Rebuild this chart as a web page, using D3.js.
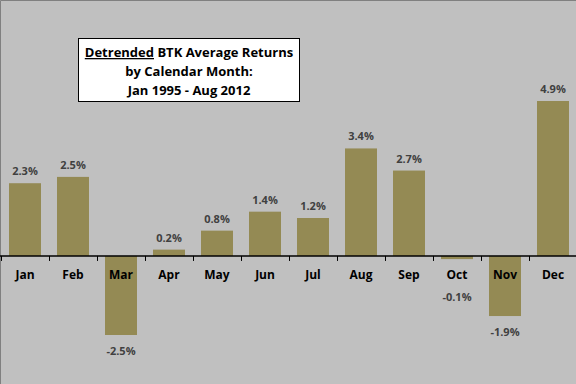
<!DOCTYPE html>
<html>
<head>
<meta charset="utf-8">
<script src="https://cdn.jsdelivr.net/npm/d3@7"></script>
<style>
  body { margin: 0; background: #c0c0c0; }
  svg { display: block; }
</style>
</head>
<body>
<svg width="576" height="384"></svg>
<script>
const months = ['Jan','Feb','Mar','Apr','May','Jun','Jul','Aug','Sep','Oct','Nov','Dec'];
const returns = [2.3, 2.5, -2.5, 0.2, 0.8, 1.4, 1.2, 3.4, 2.7, -0.1, -1.9, 4.9];
const titleLines = ['Detrended BTK Average Returns', 'by Calendar Month:', 'Jan 1995 - Aug 2012'];

const font = "Open Sans, Liberation Sans, sans-serif";
const svg = d3.select('svg');

svg.append('rect')
    .attr('width', 576).attr('height', 384)
    .attr('fill', '#c0c0c0');

// border on top / left
svg.append('path')
    .attr('d', 'M0.5,384V0.5H576')
    .attr('fill', 'none')
    .attr('stroke', '#808080');

const xScale = d3.scaleBand()
    .domain(months)
    .range([1, 577])
    .paddingInner(1/3)
    .paddingOuter(1/6);

const yScale = d3.scaleLinear()
    .domain([-2.5, 4.9])
    .range([335, 101]);

const zero = yScale(0);

svg.selectAll('rect.bar')
    .data(months)
    .enter()
    .append('rect')
    .attr('class', 'bar')
    .attr('x', m => xScale(m))
    .attr('y', (m, i) => Math.min(yScale(returns[i]), zero))
    .attr('width', xScale.bandwidth())
    .attr('height', (m, i) => Math.abs(yScale(returns[i]) - zero))
    .attr('fill', '#948a54');

// axis line + ticks between categories
const axis = svg.append('g');
axis.append('line')
    .attr('x1', 0).attr('x2', 576)
    .attr('y1', zero).attr('y2', zero)
    .attr('stroke', '#000').attr('stroke-width', 1.5);
months.forEach((m, i) => {
    const tx = Math.round(xScale(m) - xScale.step() * xScale.paddingInner() / 2) + 0.5;
    axis.append('line')
        .attr('x1', tx).attr('x2', tx)
        .attr('y1', zero).attr('y2', zero + 5)
        .attr('stroke', '#000');
});

svg.selectAll('text.month')
    .data(months)
    .enter()
    .append('text')
    .attr('class', 'month')
    .attr('x', m => xScale(m) + xScale.bandwidth() / 2)
    .attr('y', zero + 23)
    .attr('text-anchor', 'middle')
    .attr('font-family', font)
    .attr('font-weight', 'bold')
    .attr('font-size', 12)
    .attr('fill', '#000')
    .text(m => m);

svg.selectAll('text.val')
    .data(months)
    .enter()
    .append('text')
    .attr('class', 'val')
    .attr('x', m => xScale(m) + xScale.bandwidth() / 2)
    .attr('y', (m, i) => {
        const v = returns[i];
        if (v >= 0) return yScale(v) - 8;
        return Math.max(yScale(v) + 20, zero + 45);
    })
    .attr('text-anchor', 'middle')
    .attr('font-family', font)
    .attr('font-weight', 'bold')
    .attr('font-size', 11)
    .attr('fill', '#404040')
    .text((m, i) => returns[i].toFixed(1) + '%');

// title box
const tb = svg.append('g');
tb.append('rect')
    .attr('x', 78.5).attr('y', 38.5)
    .attr('width', 221).attr('height', 63)
    .attr('fill', '#fff')
    .attr('stroke', '#000');

const tLine1 = tb.append('text')
    .attr('x', 189).attr('y', 57)
    .attr('text-anchor', 'middle')
    .attr('font-family', font)
    .attr('font-weight', 'bold')
    .attr('font-size', 13)
    .attr('fill', '#000');
tLine1.append('tspan').attr('text-decoration', 'underline').text('Detrended');
tLine1.append('tspan').text(titleLines[0].replace('Detrended', ''));

titleLines.slice(1).forEach((t, i) => {
    tb.append('text')
        .attr('x', 189).attr('y', 76 + i * 19)
        .attr('text-anchor', 'middle')
        .attr('font-family', font)
        .attr('font-weight', 'bold')
        .attr('font-size', 13)
        .attr('fill', '#000')
        .text(t);
});
</script>
</body>
</html>
